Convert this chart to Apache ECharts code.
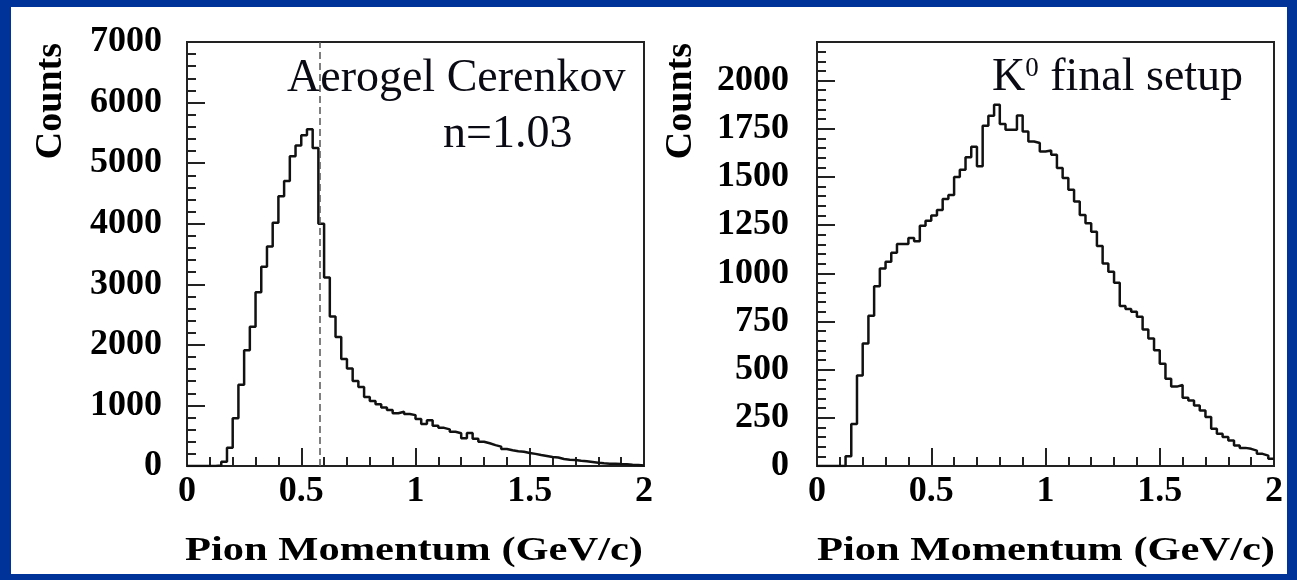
<!DOCTYPE html>
<html>
<head>
<meta charset="utf-8">
<script src="https://cdn.jsdelivr.net/npm/echarts@6/dist/echarts.min.js"></script>
<style>
  html, body { margin: 0; padding: 0; width: 1297px; height: 580px; background: #003399; overflow: hidden; }
  #panel { position: absolute; left: 11px; top: 7px; width: 1276px; height: 567px; background: #ffffff; }
  #chart { position: absolute; left: 0; top: 0; width: 1297px; height: 580px; }
</style>
</head>
<body>
<div id="panel"></div>
<div id="chart"></div>
<script>
// Momentum range of both histograms (GeV/c), 80 equal bins
const momentumRange = [0, 2];

// Pion momentum spectrum with the aerogel Cerenkov counter (n = 1.03)
const aerogelCounts = [
  0, 0, 0, 0, 0, 10, 70, 300, 790, 1340,
  1910, 2300, 2870, 3290, 3625, 4015, 4455, 4705, 5115, 5290,
  5460, 5560, 5250, 4000, 3110, 2470, 2130, 1765, 1610, 1405,
  1305, 1140, 1075, 1020, 965, 925, 870, 895, 860, 840,
  775, 695, 755, 665, 630, 605, 565, 540, 460, 545,
  450, 400, 375, 345, 320, 280, 260, 245, 235, 215,
  200, 180, 165, 150, 140, 115, 105, 100, 88, 77,
  66, 55, 45, 38, 38, 33, 30, 22, 16, 10
];

// Pion momentum spectrum for the K0 final setup
const k0Counts = [
  0, 0, 0, 0, 0, 50, 218, 470, 635, 780,
  933, 1025, 1060, 1106, 1152, 1152, 1183, 1166, 1246, 1273,
  1300, 1328, 1385, 1406, 1500, 1537, 1602, 1656, 1555, 1766,
  1817, 1875, 1775, 1745, 1745, 1818, 1736, 1684, 1676, 1632,
  1637, 1615, 1546, 1494, 1433, 1372, 1303, 1260, 1216, 1141,
  1051, 1008, 951, 830, 815, 800, 774, 708, 661, 600,
  531, 453, 412, 420, 354, 340, 314, 288, 254, 193,
  167, 150, 132, 106, 94, 89, 80, 63, 54, 37
];

// Cerenkov threshold momentum for pions at n = 1.03 (GeV/c)
const cerenkovThreshold = 0.58;

// Axis ranges and tick steps
const xStep = 0.5, xMinorStep = 0.1;
const aerogelYMax = 7000, aerogelYStep = 1000, aerogelYMinorStep = 200;
const k0YMax = 2200, k0YStep = 250, k0YMinorStep = 50;

const axisTitleX = 'Pion Momentum (GeV/c)';
const axisTitleY = 'Counts';

// Turn bin contents into step-line vertices at the bin low edges
function histogramPoints(counts) {
  const w = (momentumRange[1] - momentumRange[0]) / counts.length;
  const pts = counts.map((c, i) => [momentumRange[0] + i * w, c]);
  pts.push([momentumRange[1], counts[counts.length - 1]]);
  return pts;
}

const FRAME = '#222';
const SERIF = '"Liberation Serif", "Times New Roman", serif';
const MAJOR_LEN = 18, MINOR_LEN = 9;
const tickLine = { color: FRAME, width: 2 };

const tickLabel = {
  fontFamily: SERIF, fontWeight: 'bold', fontSize: 36, color: '#000',
  formatter: function (v) { return String(v); }
};

function xAxisFor(grid) {
  return {
    gridIndex: grid, type: 'value',
    min: momentumRange[0], max: momentumRange[1], interval: xStep,
    axisLine: { show: true, onZero: false, lineStyle: { color: FRAME, width: 2 } },
    axisTick: { show: true, inside: true, length: MAJOR_LEN, lineStyle: tickLine },
    minorTick: { show: true, splitNumber: Math.round(xStep / xMinorStep), length: MINOR_LEN, lineStyle: tickLine },
    splitLine: { show: false },
    axisLabel: Object.assign({ margin: 8 }, tickLabel)
  };
}

function yAxisFor(grid, max, step, margin, extra) {
  return Object.assign({
    gridIndex: grid, type: 'value', position: 'left',
    min: 0, max: max, interval: step,
    axisLine: { show: true, onZero: false, lineStyle: { color: FRAME, width: 2 } },
    axisTick: { show: true, inside: true, length: MAJOR_LEN, lineStyle: tickLine },
    splitLine: { show: false },
    axisLabel: Object.assign({ margin: margin, showMaxLabel: max % step === 0 }, tickLabel)
  }, extra || {});
}

const chart = echarts.init(document.getElementById('chart'), null, { renderer: 'canvas' });

const titleText = {
  fill: '#000', fontFamily: SERIF, fontWeight: 'bold', fontSize: 38
};
const noteText = {
  fill: '#0a0a14', fontFamily: SERIF, fontSize: 46, align: 'left', verticalAlign: 'middle'
};

chart.setOption({
  animation: false,
  backgroundColor: 'transparent',
  grid: [
    { left: 187, top: 42, width: 457, height: 424, show: true, borderColor: FRAME, borderWidth: 2, backgroundColor: 'transparent' },
    { left: 817, top: 42, width: 457, height: 424, show: true, borderColor: FRAME, borderWidth: 2, backgroundColor: 'transparent' }
  ],
  xAxis: [xAxisFor(0), xAxisFor(1)],
  yAxis: [
    yAxisFor(0, aerogelYMax, aerogelYStep, 25, {
      minorTick: { show: true, splitNumber: Math.round(aerogelYStep / aerogelYMinorStep), length: MINOR_LEN, lineStyle: tickLine }
    }),
    yAxisFor(1, k0YMax, k0YStep, 28, { minorTick: { show: false } }),
    // fine ticks every 50 counts on the right-hand panel
    {
      gridIndex: 1, type: 'value', position: 'left', offset: 0,
      min: 0, max: k0YMax, interval: k0YMinorStep,
      axisLine: { show: false },
      axisTick: { show: true, inside: true, length: MINOR_LEN, lineStyle: tickLine },
      minorTick: { show: false },
      axisLabel: { show: false }, splitLine: { show: false }
    }
  ],
  series: [
    {
      type: 'line', xAxisIndex: 0, yAxisIndex: 0, step: 'end', symbol: 'none',
      data: histogramPoints(aerogelCounts),
      lineStyle: { color: '#111', width: 2.5 },
      markLine: {
        silent: true, symbol: 'none', label: { show: false },
        lineStyle: { color: '#555', width: 1.5, type: [7, 4] },
        data: [{ xAxis: cerenkovThreshold }]
      }
    },
    {
      type: 'line', xAxisIndex: 1, yAxisIndex: 1, step: 'end', symbol: 'none',
      data: histogramPoints(k0Counts),
      lineStyle: { color: '#111', width: 2.5 }
    }
  ],
  graphic: [
    { type: 'text', x: 51, y: 43, rotation: Math.PI / 2,
      style: Object.assign({ text: axisTitleY, align: 'right', verticalAlign: 'middle' }, titleText) },
    { type: 'text', x: 681, y: 43, rotation: Math.PI / 2,
      style: Object.assign({ text: axisTitleY, align: 'right', verticalAlign: 'middle' }, titleText) },
    { type: 'text', x: 414, y: 551, scaleX: 1.25,
      style: Object.assign({ text: axisTitleX, align: 'center', verticalAlign: 'middle' }, titleText, { fontSize: 34 }) },
    { type: 'text', x: 1046, y: 551, scaleX: 1.25,
      style: Object.assign({ text: axisTitleX, align: 'center', verticalAlign: 'middle' }, titleText, { fontSize: 34 }) },
    { type: 'text', x: 287, y: 79,
      style: Object.assign({ text: 'Aerogel Cerenkov' }, noteText) },
    { type: 'text', x: 443, y: 135,
      style: Object.assign({ text: 'n=1.03' }, noteText) },
    { type: 'text', x: 992, y: 78,
      style: Object.assign({
        text: '{k|K}{s|0}{k| final setup}',
        rich: {
          k: { fontFamily: SERIF, fontSize: 46, lineHeight: 46, fill: '#0a0a14' },
          s: { fontFamily: SERIF, fontSize: 27, lineHeight: 27, verticalAlign: 'top', fill: '#0a0a14' }
        }
      }, noteText) }
  ]
});
</script>
</body>
</html>
